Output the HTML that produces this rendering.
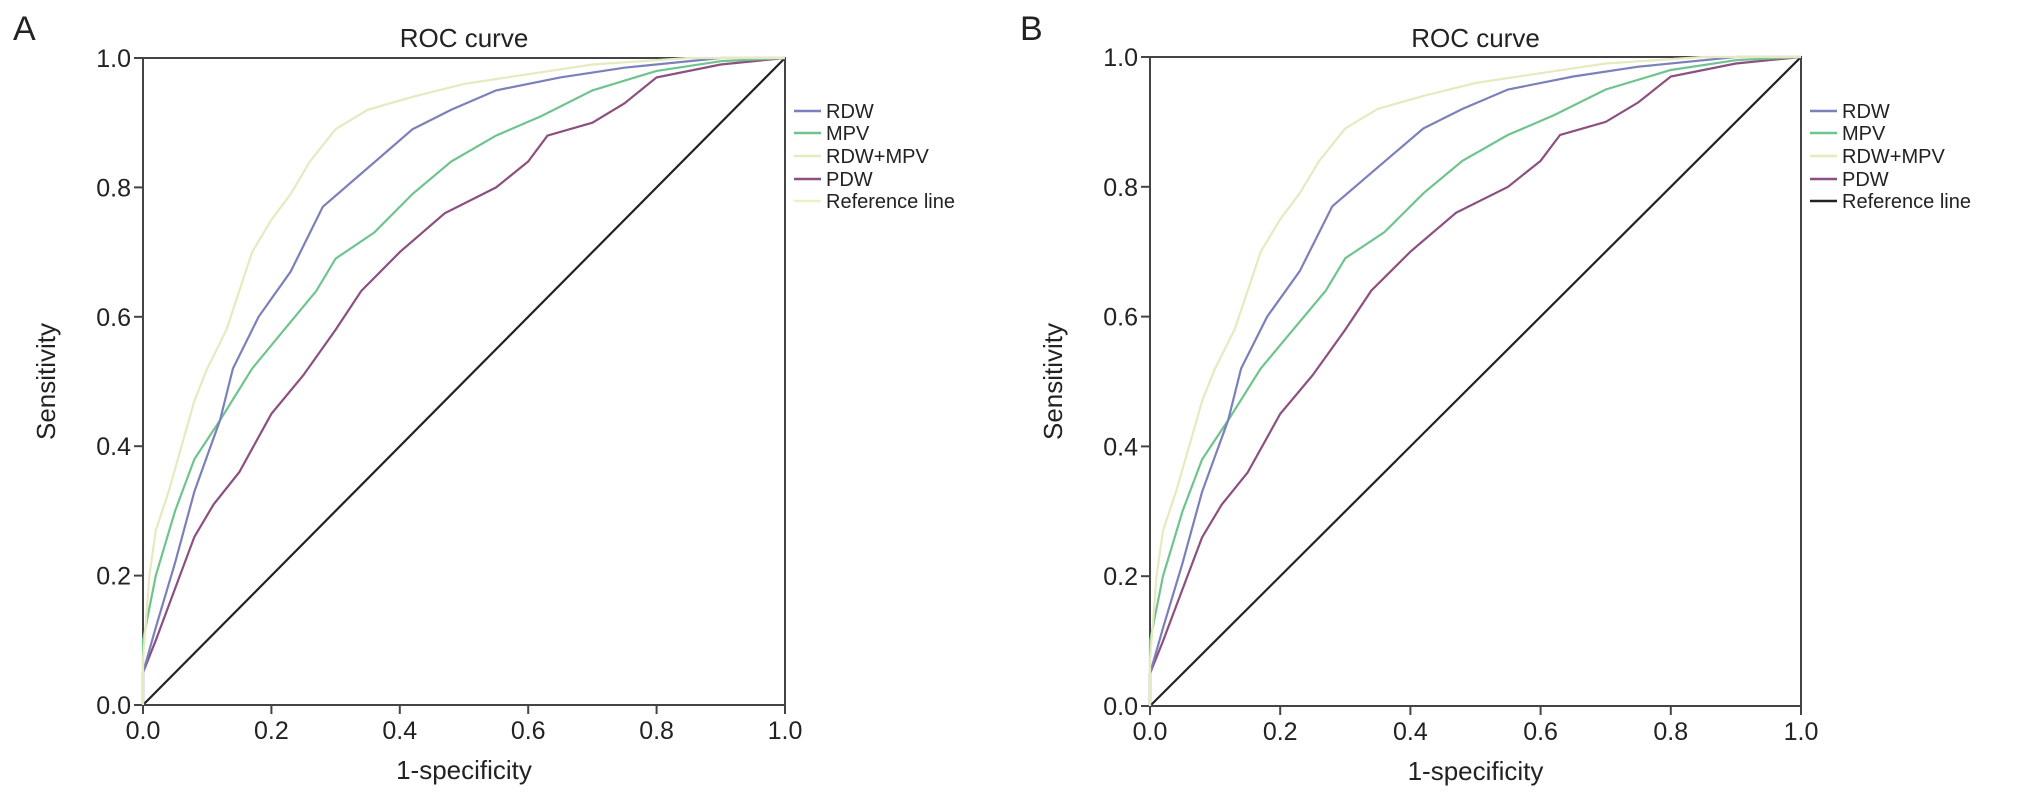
<!DOCTYPE html>
<html><head><meta charset="utf-8"><style>
body{margin:0;background:#fff;}
svg text{font-family:"Liberation Sans",Arial,sans-serif;fill:#222;}
</style></head><body>
<svg id="s" width="2032" height="807" xmlns="http://www.w3.org/2000/svg"></svg>
<script>
const ticks=[0,0.2,0.4,0.6,0.8,1.0];
const tickLabels=["0.0","0.2","0.4","0.6","0.8","1.0"];
const seriesNames=["RDW","MPV","RDW+MPV","PDW"];
const rdwX=[0,0.02,0.05,0.08,0.12,0.14,0.18,0.23,0.28,0.35,0.42,0.48,0.55,0.65,0.75,0.9,1];
const rdwY=[0.05,0.12,0.22,0.33,0.44,0.52,0.6,0.67,0.77,0.83,0.89,0.92,0.95,0.97,0.985,1,1];
const mpvX=[0,0.02,0.05,0.08,0.12,0.17,0.22,0.27,0.3,0.36,0.42,0.48,0.55,0.62,0.7,0.8,0.9,1];
const mpvY=[0.1,0.2,0.3,0.38,0.44,0.52,0.58,0.64,0.69,0.73,0.79,0.84,0.88,0.91,0.95,0.98,0.995,1];
const comboX=[0,0.01,0.02,0.04,0.06,0.08,0.1,0.13,0.15,0.17,0.2,0.23,0.26,0.3,0.35,0.42,0.5,0.6,0.7,0.85,1];
const comboY=[0.07,0.2,0.27,0.33,0.4,0.47,0.52,0.58,0.64,0.7,0.75,0.79,0.84,0.89,0.92,0.94,0.96,0.975,0.99,1,1];
const pdwX=[0,0.02,0.05,0.08,0.11,0.15,0.2,0.25,0.3,0.34,0.4,0.47,0.55,0.6,0.63,0.7,0.75,0.8,0.9,1];
const pdwY=[0.05,0.1,0.18,0.26,0.31,0.36,0.45,0.51,0.58,0.64,0.7,0.76,0.8,0.84,0.88,0.9,0.93,0.97,0.99,1];
const colors=["#7b80bb","#6fc48e","#e6eabf","#8b4f80"];
const NS="http://www.w3.org/2000/svg";
const svg=document.getElementById('s');
function mk(t,a,p){const e=document.createElementNS(NS,t);for(const k in a)e.setAttribute(k,a[k]);(p||svg).appendChild(e);return e;}
function panel(id,letter,x0,x1,y0,y1,refLegendColor){
  const g=mk('g',{});
  
  
  const sx=v=>x0+v*(x1-x0), sy=v=>y0-v*(y0-y1);
  const L=mk('text',{x:x0-130,y:40,'font-size':34},g);L.textContent=letter;
  
  const T=mk('text',{x:(x0+x1)/2,y:47,'font-size':26,'text-anchor':'middle'},g);T.textContent="ROC curve";
  
  const fr=mk('rect',{x:x0,y:y1,width:x1-x0,height:y0-y1,fill:'none',stroke:'#444','stroke-width':2},g);
  
  ticks.forEach((t,i)=>{
    const a=mk('line',{x1:x0-9,x2:x0,y1:sy(t),y2:sy(t),stroke:'#444','stroke-width':2},g);
    
    const b=mk('text',{x:x0-12,y:sy(t)+9,'font-size':25,'text-anchor':'end'},g);b.textContent=tickLabels[i];
    
    const c=mk('line',{x1:sx(t),x2:sx(t),y1:y0,y2:y0+9,stroke:'#444','stroke-width':2},g);
    
    const d=mk('text',{x:sx(t),y:y0+34,'font-size':25,'text-anchor':'middle'},g);d.textContent=tickLabels[i];
    
  });
  const xt=mk('text',{x:(x0+x1)/2,y:y0+74,'font-size':26,'text-anchor':'middle'},g);xt.textContent="1-specificity";
  
  const yt=mk('text',{x:0,y:0,'font-size':26,'text-anchor':'middle',transform:`translate(${x0-88},${(y0+y1)/2}) rotate(-90)`},g);yt.textContent="Sensitivity";
  
  const ref=mk('line',{x1:sx(0),y1:sy(0),x2:sx(1),y2:sy(1),stroke:'#222','stroke-width':2.2},g);
  
  const data=[[rdwX,rdwY],[mpvX,mpvY],[comboX,comboY],[pdwX,pdwY]];
  [3,1,0,2].forEach(k=>{
    const [xs,ys]=data[k];
    const pts=xs.map((v,i)=>sx(v).toFixed(1)+','+sy(ys[i]).toFixed(1)).join(' ');
    const p=mk('polyline',{points:sx(0)+','+sy(0)+' '+pts,fill:'none',stroke:colors[k],'stroke-width':2.2},g);
    
    
  });
  const lx=x1+9, rows=[111,133,156,179,201];
  const names=seriesNames.concat(["Reference line"]);
  const lc=colors.concat([refLegendColor]);
  names.forEach((n,i)=>{
    const l=mk('line',{x1:lx,x2:lx+27,y1:rows[i],y2:rows[i],stroke:lc[i],'stroke-width':2.5},g);
    
    const t=mk('text',{x:lx+32,y:rows[i]+7,'font-size':20},g);t.textContent=n;
    
  });
}
panel('a','A',143,785,705,58,'#eef0c8');
panel('b','B',1150,1801,706,57,'#222');
</script>
</body></html>
